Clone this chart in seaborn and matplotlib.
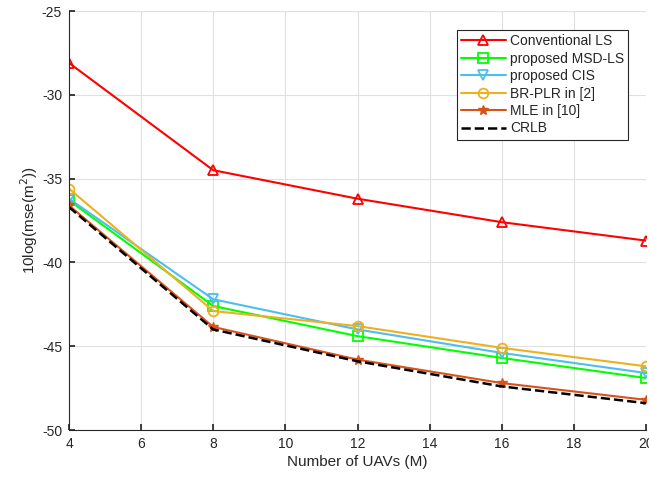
import matplotlib
matplotlib.use("Agg")
import matplotlib.pyplot as plt
import seaborn as sns
import pandas as pd

sns.set_theme(style="white")
plt.rcParams['font.family'] = ['Liberation Sans', 'DejaVu Sans']
plt.rcParams['axes.unicode_minus'] = False

M = [4, 8, 12, 16, 20]
conv_ls = [-28.1, -34.5, -36.2, -37.6, -38.7]
msd_ls = [-36.3, -42.6, -44.4, -45.7, -46.9]
cis = [-36.2, -42.2, -44.0, -45.4, -46.6]
br_plr = [-35.6, -42.9, -43.8, -45.1, -46.2]
mle = [-36.6, -43.85, -45.8, -47.2, -48.2]
crlb = [-36.7, -44.0, -45.9, -47.4, -48.4]

series = [
    ("Conventional LS", conv_ls, "#ff0000", "^", "none", "-"),
    ("proposed MSD-LS", msd_ls, "#00ff00", "s", "none", "-"),
    ("proposed CIS", cis, "#4dbeee", "v", "none", "-"),
    ("BR-PLR in [2]", br_plr, "#edb120", "o", "none", "-"),
    ("MLE in [10]", mle, "#d95319", "*", "full", "-"),
    ("CRLB", crlb, "#000000", None, "none", "--"),
]

fig = plt.figure(figsize=(6.49, 4.82), dpi=100)
ax = fig.add_axes([69/649, 1-430/482, (646-69)/649, (430-11)/482])

for name, vals, col, mk, fill, ls in series:
    df = pd.DataFrame({"M": M, "v": vals})
    kw = dict(color=col, linewidth=1.5, linestyle=ls, label=name)
    if mk is not None:
        if fill == "none":
            kw.update(marker=mk, markersize=7, markerfacecolor="none",
                      markeredgecolor=col, markeredgewidth=1.3)
        else:
            kw.update(marker=mk, markersize=7, markerfacecolor=col,
                      markeredgecolor=col, markeredgewidth=1.0)
    if ls == "--":
        kw.update(dashes=(4, 3), linewidth=1.8)
    sns.lineplot(data=df, x="M", y="v", ax=ax, **kw)

ax.set_xlim(4, 20)
ax.set_ylim(-50, -25)
ax.set_xticks([4, 6, 8, 10, 12, 14, 16, 18, 20])
ax.set_yticks([-50, -45, -40, -35, -30, -25])
ax.grid(True, color="#e0e0e0", linewidth=0.8)
for s in ["top", "right"]:
    ax.spines[s].set_visible(False)
for s in ["left", "bottom"]:
    ax.spines[s].set_color("#262626")
    ax.spines[s].set_linewidth(0.8)
ax.tick_params(axis="both", labelsize=10, colors="#262626", direction="in",
               length=4, left=True, bottom=True, pad=5)
ax.set_xlabel("Number of UAVs (M)", fontsize=11, color="#262626", labelpad=3)
ax.set_ylabel("10log(mse(m$^2$))", fontsize=11, color="#262626", labelpad=1)

leg = ax.legend(loc="upper right", bbox_to_anchor=(635/577 - 69/577, 1 - 12/419),
                fontsize=10, frameon=True, fancybox=False, edgecolor="#262626",
                framealpha=1, handlelength=3.2, borderpad=0.3, labelspacing=0.25,
                handletextpad=0.3)
leg.get_frame().set_linewidth(0.8)

fig.savefig("out.png", dpi=100)
